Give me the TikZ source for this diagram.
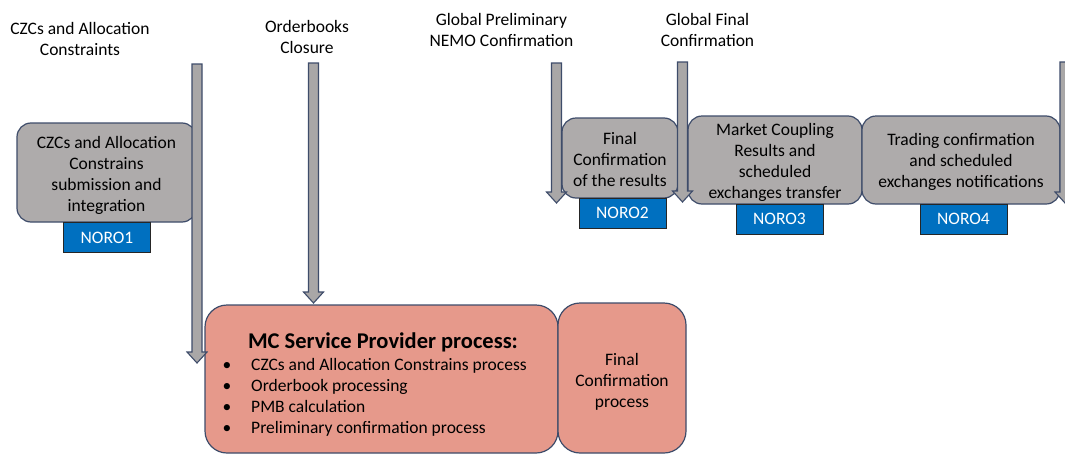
\documentclass[tikz,border=0pt]{standalone}
\usepackage{fontspec}
\setmainfont{Carlito}
\definecolor{boxgray}{HTML}{AEABAB}
\definecolor{arrgray}{HTML}{A9A7A7}
\definecolor{edgec}{HTML}{3E4C6A}
\definecolor{noroblue}{HTML}{0070C0}
\definecolor{salmon}{HTML}{E6998B}
\newcommand\fs{\fontsize{17.5}{21}\selectfont}
\newcommand\myblockarrow[4]{% name, x, top, tip
  \coordinate (#1top) at (#2,#3);
  \coordinate (#1tip) at (#2,#4);
  \draw[blockarr] ($(#1top)+(-5,0)$) -- ($(#1top)+(5,0)$) -- ($(#1tip)+(5,-11)$) -- ($(#1tip)+(10,-11)$) -- (#1tip) -- ($(#1tip)+(-10,-11)$) -- ($(#1tip)+(-5,-11)$) -- cycle;}
\usetikzlibrary{calc}
\begin{document}
\begin{tikzpicture}[x=1pt,y=-1pt,
  graybox/.style={draw=edgec, line width=1.2pt, fill=boxgray, rounded corners=14pt, inner sep=0pt, align=center, font=\fs},
  salmonbox/.style={draw=edgec, line width=1.2pt, fill=salmon, rounded corners=22pt, inner sep=0pt, align=center, font=\fs},
  norobox/.style={draw=black!85, line width=1pt, fill=noroblue, text=white, inner sep=0pt, minimum width=87pt, minimum height=30pt, font=\fontsize{17.5}{21}\selectfont},
  toplabel/.style={align=center, inner sep=0pt, font=\fs},
  listtext/.style={anchor=base west, inner sep=0pt, font=\fs},
  blockarr/.style={draw=edgec, line width=1.1pt, fill=arrgray, line join=miter}]
\clip (0,0) rectangle (1065,455);
\fill[white] (0,0) rectangle (1065,455);

% top labels
\node[toplabel] (lczc) at (80,38.5) {CZCs and Allocation\\Constraints};
\node[toplabel] (lob) at (307,37.2) {Orderbooks\\Closure};
\node[toplabel] (lgp) at (501.5,29.8) {Global Preliminary\\NEMO Confirmation};
\node[toplabel] (lgf) at (707.5,29.8) {Global Final\\Confirmation};

% gray process boxes
\node[graybox, minimum width=179pt, minimum height=99pt] (czc) at (106.5,172.5) {};
\node[toplabel] (czct) at (106.5,175) {CZCs and Allocation\\Constrains\\submission and\\integration};
\node[graybox, minimum width=116pt, minimum height=80pt] (fcr) at (620,158) {};
\node[toplabel] (fcrt) at (620,159.5) {Final\\Confirmation\\of the results};
\node[graybox, minimum width=174pt, minimum height=88pt] (mcr) at (775,160) {};
\node[toplabel] (mcrt) at (775,162) {Market Coupling\\Results and\\scheduled\\exchanges transfer};
\node[graybox, minimum width=198pt, minimum height=88pt] (trc) at (961,160) {};
\node[toplabel] (trct) at (961,162) {Trading confirmation\\and scheduled\\exchanges notifications};

% NORO labels
\node[norobox] (noro1) at (107,237.5) {NORO1};
\node[norobox] (noro2) at (622.5,213) {NORO2};
\node[norobox] (noro3) at (779.5,219) {NORO3};
\node[norobox] (noro4) at (963.5,219) {NORO4};

% MC service provider boxes
\node[salmonbox, minimum width=353pt, minimum height=148pt] (mc) at (381.5,379) {};
\node[salmonbox, minimum width=128pt, minimum height=150pt] (fcp) at (622,378) {};
\node[toplabel] (fcpt) at (622,382) {Final\\Confirmation\\process};
\node[inner sep=0pt, anchor=base, font=\bfseries\fontsize{22.5}{27}\selectfont] (mctitle) at (383,348) {MC Service Provider process:};
\node[listtext] (i1) at (251,370) {CZCs and Allocation Constrains process};
\node[listtext] (i2) at (251,391) {Orderbook processing};
\node[listtext] (i3) at (251,412) {PMB calculation};
\node[listtext] (i4) at (251,433) {Preliminary confirmation process};
\node[listtext, anchor=base] (d1) at (227,370) {\textbullet};
\node[listtext, anchor=base] (d2) at (227,391) {\textbullet};
\node[listtext, anchor=base] (d3) at (227,412) {\textbullet};
\node[listtext, anchor=base] (d4) at (227,433) {\textbullet};

% block arrows
\myblockarrow{a1}{197}{64}{363}
\myblockarrow{a2}{313.5}{63}{303}
\myblockarrow{a3}{556.5}{63}{203}
\myblockarrow{a4}{682.5}{62}{202}
\myblockarrow{a5}{1065}{62}{203}
\end{tikzpicture}
\end{document}
